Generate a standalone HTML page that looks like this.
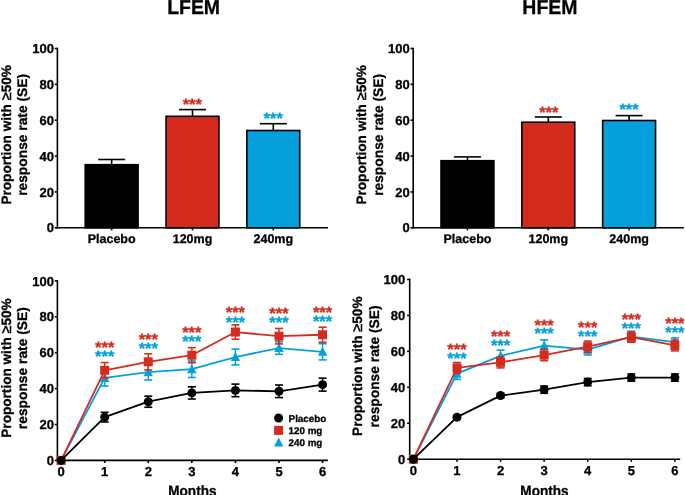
<!DOCTYPE html>
<html><head><meta charset="utf-8"><style>
html,body{margin:0;padding:0;background:#fff;}
svg{display:block;will-change:transform;}
text{stroke-width:0.3;paint-order:stroke;text-rendering:geometricPrecision;font-family:"Liberation Sans", sans-serif;font-weight:bold;}
</style></head><body>
<svg width="685" height="495" viewBox="0 0 685 495">
<rect width="685" height="495" fill="#fff"/>
<text transform="translate(193.60,13.75) scale(0.972,1)" font-size="20" text-anchor="middle" fill="#000" stroke="#000">LFEM</text>
<text transform="translate(10.60,134.85) rotate(-90)" font-size="13.6" text-anchor="middle" stroke="#000">Proportion with <tspan font-weight="normal" font-size="14.5" stroke-width="0.5">≥</tspan>50%</text>
<text transform="translate(26.80,134.90) rotate(-90)" font-size="13.8" text-anchor="middle" stroke="#000">response rate (SE)</text>
<line x1="57.40" y1="47.70" x2="57.40" y2="228.60" stroke="#000" stroke-width="1.6" stroke-linecap="butt"/>
<line x1="54.80" y1="227.80" x2="57.40" y2="227.80" stroke="#000" stroke-width="1.6" stroke-linecap="butt"/>
<text x="53.90" y="232.40" font-size="13" text-anchor="end" fill="#000" stroke="#000" >0</text>
<line x1="54.80" y1="191.94" x2="57.40" y2="191.94" stroke="#000" stroke-width="1.6" stroke-linecap="butt"/>
<text x="53.90" y="196.54" font-size="13" text-anchor="end" fill="#000" stroke="#000" >20</text>
<line x1="54.80" y1="156.08" x2="57.40" y2="156.08" stroke="#000" stroke-width="1.6" stroke-linecap="butt"/>
<text x="53.90" y="160.68" font-size="13" text-anchor="end" fill="#000" stroke="#000" >40</text>
<line x1="54.80" y1="120.22" x2="57.40" y2="120.22" stroke="#000" stroke-width="1.6" stroke-linecap="butt"/>
<text x="53.90" y="124.82" font-size="13" text-anchor="end" fill="#000" stroke="#000" >60</text>
<line x1="54.80" y1="84.36" x2="57.40" y2="84.36" stroke="#000" stroke-width="1.6" stroke-linecap="butt"/>
<text x="53.90" y="88.96" font-size="13" text-anchor="end" fill="#000" stroke="#000" >80</text>
<line x1="54.80" y1="48.50" x2="57.40" y2="48.50" stroke="#000" stroke-width="1.6" stroke-linecap="butt"/>
<text x="53.90" y="53.10" font-size="13" text-anchor="end" fill="#000" stroke="#000" >100</text>
<line x1="56.60" y1="227.80" x2="328.00" y2="227.80" stroke="#000" stroke-width="1.6" stroke-linecap="butt"/>
<line x1="111.65" y1="159.50" x2="111.65" y2="164.90" stroke="#000" stroke-width="1.6" stroke-linecap="butt"/>
<line x1="98.15" y1="159.50" x2="125.15" y2="159.50" stroke="#000" stroke-width="1.6" stroke-linecap="butt"/>
<rect x="85.20" y="164.70" width="52.90" height="63.10" fill="#000" stroke="#000" stroke-width="1.6"/>
<line x1="111.65" y1="227.80" x2="111.65" y2="230.40" stroke="#000" stroke-width="1.6" stroke-linecap="butt"/>
<text x="111.65" y="242.80" font-size="12.5" text-anchor="middle" fill="#000" stroke="#000" >Placebo</text>
<line x1="192.50" y1="109.60" x2="192.50" y2="116.50" stroke="#000" stroke-width="1.6" stroke-linecap="butt"/>
<line x1="179.00" y1="109.60" x2="206.00" y2="109.60" stroke="#000" stroke-width="1.6" stroke-linecap="butt"/>
<rect x="166.05" y="116.30" width="52.90" height="111.50" fill="#d52b1e" stroke="#000" stroke-width="1.6"/>
<line x1="192.50" y1="227.80" x2="192.50" y2="230.40" stroke="#000" stroke-width="1.6" stroke-linecap="butt"/>
<text x="192.50" y="242.80" font-size="12.5" text-anchor="middle" fill="#000" stroke="#000" >120mg</text>
<line x1="273.30" y1="123.70" x2="273.30" y2="130.70" stroke="#000" stroke-width="1.6" stroke-linecap="butt"/>
<line x1="259.80" y1="123.70" x2="286.80" y2="123.70" stroke="#000" stroke-width="1.6" stroke-linecap="butt"/>
<rect x="246.85" y="130.50" width="52.90" height="97.30" fill="#03a0dd" stroke="#000" stroke-width="1.6"/>
<line x1="273.30" y1="227.80" x2="273.30" y2="230.40" stroke="#000" stroke-width="1.6" stroke-linecap="butt"/>
<text x="273.30" y="242.80" font-size="12.5" text-anchor="middle" fill="#000" stroke="#000" >240mg</text>
<text x="192.30" y="110.20" font-size="16.5" text-anchor="middle" fill="#d52b1e" stroke="#d52b1e" >***</text>
<text x="273.20" y="123.80" font-size="16.5" text-anchor="middle" fill="#03a0dd" stroke="#03a0dd" >***</text>
<text transform="translate(549.90,13.75) scale(0.972,1)" font-size="20" text-anchor="middle" fill="#000" stroke="#000">HFEM</text>
<text transform="translate(366.00,134.85) rotate(-90)" font-size="13.6" text-anchor="middle" stroke="#000">Proportion with <tspan font-weight="normal" font-size="14.5" stroke-width="0.5">≥</tspan>50%</text>
<text transform="translate(382.60,134.90) rotate(-90)" font-size="13.8" text-anchor="middle" stroke="#000">response rate (SE)</text>
<line x1="413.20" y1="47.70" x2="413.20" y2="228.60" stroke="#000" stroke-width="1.6" stroke-linecap="butt"/>
<line x1="410.60" y1="227.80" x2="413.20" y2="227.80" stroke="#000" stroke-width="1.6" stroke-linecap="butt"/>
<text x="409.70" y="232.40" font-size="13" text-anchor="end" fill="#000" stroke="#000" >0</text>
<line x1="410.60" y1="191.94" x2="413.20" y2="191.94" stroke="#000" stroke-width="1.6" stroke-linecap="butt"/>
<text x="409.70" y="196.54" font-size="13" text-anchor="end" fill="#000" stroke="#000" >20</text>
<line x1="410.60" y1="156.08" x2="413.20" y2="156.08" stroke="#000" stroke-width="1.6" stroke-linecap="butt"/>
<text x="409.70" y="160.68" font-size="13" text-anchor="end" fill="#000" stroke="#000" >40</text>
<line x1="410.60" y1="120.22" x2="413.20" y2="120.22" stroke="#000" stroke-width="1.6" stroke-linecap="butt"/>
<text x="409.70" y="124.82" font-size="13" text-anchor="end" fill="#000" stroke="#000" >60</text>
<line x1="410.60" y1="84.36" x2="413.20" y2="84.36" stroke="#000" stroke-width="1.6" stroke-linecap="butt"/>
<text x="409.70" y="88.96" font-size="13" text-anchor="end" fill="#000" stroke="#000" >80</text>
<line x1="410.60" y1="48.50" x2="413.20" y2="48.50" stroke="#000" stroke-width="1.6" stroke-linecap="butt"/>
<text x="409.70" y="53.10" font-size="13" text-anchor="end" fill="#000" stroke="#000" >100</text>
<line x1="412.40" y1="227.80" x2="683.80" y2="227.80" stroke="#000" stroke-width="1.6" stroke-linecap="butt"/>
<line x1="467.45" y1="156.90" x2="467.45" y2="160.90" stroke="#000" stroke-width="1.6" stroke-linecap="butt"/>
<line x1="453.95" y1="156.90" x2="480.95" y2="156.90" stroke="#000" stroke-width="1.6" stroke-linecap="butt"/>
<rect x="441.00" y="160.70" width="52.90" height="67.10" fill="#000" stroke="#000" stroke-width="1.6"/>
<line x1="467.45" y1="227.80" x2="467.45" y2="230.40" stroke="#000" stroke-width="1.6" stroke-linecap="butt"/>
<text x="467.45" y="242.80" font-size="12.5" text-anchor="middle" fill="#000" stroke="#000" >Placebo</text>
<line x1="548.30" y1="117.00" x2="548.30" y2="122.40" stroke="#000" stroke-width="1.6" stroke-linecap="butt"/>
<line x1="534.80" y1="117.00" x2="561.80" y2="117.00" stroke="#000" stroke-width="1.6" stroke-linecap="butt"/>
<rect x="521.85" y="122.20" width="52.90" height="105.60" fill="#d52b1e" stroke="#000" stroke-width="1.6"/>
<line x1="548.30" y1="227.80" x2="548.30" y2="230.40" stroke="#000" stroke-width="1.6" stroke-linecap="butt"/>
<text x="548.30" y="242.80" font-size="12.5" text-anchor="middle" fill="#000" stroke="#000" >120mg</text>
<line x1="629.10" y1="115.60" x2="629.10" y2="120.70" stroke="#000" stroke-width="1.6" stroke-linecap="butt"/>
<line x1="615.60" y1="115.60" x2="642.60" y2="115.60" stroke="#000" stroke-width="1.6" stroke-linecap="butt"/>
<rect x="602.65" y="120.50" width="52.90" height="107.30" fill="#03a0dd" stroke="#000" stroke-width="1.6"/>
<line x1="629.10" y1="227.80" x2="629.10" y2="230.40" stroke="#000" stroke-width="1.6" stroke-linecap="butt"/>
<text x="629.10" y="242.80" font-size="12.5" text-anchor="middle" fill="#000" stroke="#000" >240mg</text>
<text x="548.80" y="118.40" font-size="16.5" text-anchor="middle" fill="#d52b1e" stroke="#d52b1e" >***</text>
<text x="629.10" y="115.30" font-size="16.5" text-anchor="middle" fill="#03a0dd" stroke="#03a0dd" >***</text>
<text transform="translate(10.60,368.00) rotate(-90)" font-size="13.6" text-anchor="middle" stroke="#000">Proportion with <tspan font-weight="normal" font-size="14.5" stroke-width="0.5">≥</tspan>50%</text>
<text transform="translate(26.80,368.20) rotate(-90)" font-size="13.8" text-anchor="middle" stroke="#000">response rate (SE)</text>
<line x1="57.40" y1="280.10" x2="57.40" y2="461.20" stroke="#000" stroke-width="1.6" stroke-linecap="butt"/>
<line x1="54.80" y1="460.40" x2="57.40" y2="460.40" stroke="#000" stroke-width="1.6" stroke-linecap="butt"/>
<text x="53.90" y="465.00" font-size="13" text-anchor="end" fill="#000" stroke="#000" >0</text>
<line x1="54.80" y1="424.50" x2="57.40" y2="424.50" stroke="#000" stroke-width="1.6" stroke-linecap="butt"/>
<text x="53.90" y="429.10" font-size="13" text-anchor="end" fill="#000" stroke="#000" >20</text>
<line x1="54.80" y1="388.60" x2="57.40" y2="388.60" stroke="#000" stroke-width="1.6" stroke-linecap="butt"/>
<text x="53.90" y="393.20" font-size="13" text-anchor="end" fill="#000" stroke="#000" >40</text>
<line x1="54.80" y1="352.70" x2="57.40" y2="352.70" stroke="#000" stroke-width="1.6" stroke-linecap="butt"/>
<text x="53.90" y="357.30" font-size="13" text-anchor="end" fill="#000" stroke="#000" >60</text>
<line x1="54.80" y1="316.80" x2="57.40" y2="316.80" stroke="#000" stroke-width="1.6" stroke-linecap="butt"/>
<text x="53.90" y="321.40" font-size="13" text-anchor="end" fill="#000" stroke="#000" >80</text>
<line x1="54.80" y1="280.90" x2="57.40" y2="280.90" stroke="#000" stroke-width="1.6" stroke-linecap="butt"/>
<text x="53.90" y="285.50" font-size="13" text-anchor="end" fill="#000" stroke="#000" >100</text>
<line x1="56.60" y1="460.40" x2="327.90" y2="460.40" stroke="#000" stroke-width="1.6" stroke-linecap="butt"/>
<text x="61.10" y="476.40" font-size="13" text-anchor="middle" fill="#000" stroke="#000" >0</text>
<line x1="104.68" y1="460.40" x2="104.68" y2="463.00" stroke="#000" stroke-width="1.6" stroke-linecap="butt"/>
<text x="104.68" y="476.40" font-size="13" text-anchor="middle" fill="#000" stroke="#000" >1</text>
<line x1="148.26" y1="460.40" x2="148.26" y2="463.00" stroke="#000" stroke-width="1.6" stroke-linecap="butt"/>
<text x="148.26" y="476.40" font-size="13" text-anchor="middle" fill="#000" stroke="#000" >2</text>
<line x1="191.84" y1="460.40" x2="191.84" y2="463.00" stroke="#000" stroke-width="1.6" stroke-linecap="butt"/>
<text x="191.84" y="476.40" font-size="13" text-anchor="middle" fill="#000" stroke="#000" >3</text>
<line x1="235.42" y1="460.40" x2="235.42" y2="463.00" stroke="#000" stroke-width="1.6" stroke-linecap="butt"/>
<text x="235.42" y="476.40" font-size="13" text-anchor="middle" fill="#000" stroke="#000" >4</text>
<line x1="279.00" y1="460.40" x2="279.00" y2="463.00" stroke="#000" stroke-width="1.6" stroke-linecap="butt"/>
<text x="279.00" y="476.40" font-size="13" text-anchor="middle" fill="#000" stroke="#000" >5</text>
<line x1="322.58" y1="460.40" x2="322.58" y2="463.00" stroke="#000" stroke-width="1.6" stroke-linecap="butt"/>
<text x="322.58" y="476.40" font-size="13" text-anchor="middle" fill="#000" stroke="#000" >6</text>
<text transform="translate(192.40,495.9) scale(0.907,1)" font-size="15" text-anchor="middle" fill="#000" stroke="#000">Months</text>
<polyline points="61.10,460.40 104.68,377.83 148.26,372.09 191.84,369.21 235.42,357.01 279.00,348.03 322.58,351.80" fill="none" stroke="#03a0dd" stroke-width="1.8" stroke-linejoin="round"/>
<polygon points="61.10,455.45 65.80,464.45 56.40,464.45" fill="#03a0dd"/>
<line x1="104.68" y1="369.57" x2="104.68" y2="386.09" stroke="#03a0dd" stroke-width="1.4" stroke-linecap="butt"/>
<line x1="100.68" y1="369.57" x2="108.68" y2="369.57" stroke="#03a0dd" stroke-width="1.6" stroke-linecap="butt"/>
<line x1="100.68" y1="386.09" x2="108.68" y2="386.09" stroke="#03a0dd" stroke-width="1.6" stroke-linecap="butt"/>
<polygon points="104.68,372.88 109.38,381.88 99.98,381.88" fill="#03a0dd"/>
<line x1="148.26" y1="364.19" x2="148.26" y2="379.98" stroke="#03a0dd" stroke-width="1.4" stroke-linecap="butt"/>
<line x1="144.26" y1="364.19" x2="152.26" y2="364.19" stroke="#03a0dd" stroke-width="1.6" stroke-linecap="butt"/>
<line x1="144.26" y1="379.98" x2="152.26" y2="379.98" stroke="#03a0dd" stroke-width="1.6" stroke-linecap="butt"/>
<polygon points="148.26,367.14 152.96,376.14 143.56,376.14" fill="#03a0dd"/>
<line x1="191.84" y1="360.96" x2="191.84" y2="377.47" stroke="#03a0dd" stroke-width="1.4" stroke-linecap="butt"/>
<line x1="187.84" y1="360.96" x2="195.84" y2="360.96" stroke="#03a0dd" stroke-width="1.6" stroke-linecap="butt"/>
<line x1="187.84" y1="377.47" x2="195.84" y2="377.47" stroke="#03a0dd" stroke-width="1.6" stroke-linecap="butt"/>
<polygon points="191.84,364.26 196.54,373.26 187.14,373.26" fill="#03a0dd"/>
<line x1="235.42" y1="349.11" x2="235.42" y2="364.91" stroke="#03a0dd" stroke-width="1.4" stroke-linecap="butt"/>
<line x1="231.42" y1="349.11" x2="239.42" y2="349.11" stroke="#03a0dd" stroke-width="1.6" stroke-linecap="butt"/>
<line x1="231.42" y1="364.91" x2="239.42" y2="364.91" stroke="#03a0dd" stroke-width="1.6" stroke-linecap="butt"/>
<polygon points="235.42,352.06 240.12,361.06 230.72,361.06" fill="#03a0dd"/>
<line x1="279.00" y1="341.75" x2="279.00" y2="354.32" stroke="#03a0dd" stroke-width="1.4" stroke-linecap="butt"/>
<line x1="275.00" y1="341.75" x2="283.00" y2="341.75" stroke="#03a0dd" stroke-width="1.6" stroke-linecap="butt"/>
<line x1="275.00" y1="354.32" x2="283.00" y2="354.32" stroke="#03a0dd" stroke-width="1.6" stroke-linecap="butt"/>
<polygon points="279.00,343.08 283.70,352.08 274.30,352.08" fill="#03a0dd"/>
<line x1="322.58" y1="343.72" x2="322.58" y2="359.88" stroke="#03a0dd" stroke-width="1.4" stroke-linecap="butt"/>
<line x1="318.58" y1="343.72" x2="326.58" y2="343.72" stroke="#03a0dd" stroke-width="1.6" stroke-linecap="butt"/>
<line x1="318.58" y1="359.88" x2="326.58" y2="359.88" stroke="#03a0dd" stroke-width="1.6" stroke-linecap="butt"/>
<polygon points="322.58,346.85 327.28,355.85 317.88,355.85" fill="#03a0dd"/>
<polyline points="61.10,460.40 104.68,370.29 148.26,361.85 191.84,355.21 235.42,332.06 279.00,336.19 322.58,334.75" fill="none" stroke="#d52b1e" stroke-width="1.8" stroke-linejoin="round"/>
<rect x="56.60" y="455.90" width="9" height="9" fill="#d52b1e"/>
<line x1="104.68" y1="362.57" x2="104.68" y2="378.01" stroke="#d52b1e" stroke-width="1.4" stroke-linecap="butt"/>
<line x1="100.68" y1="362.57" x2="108.68" y2="362.57" stroke="#d52b1e" stroke-width="1.6" stroke-linecap="butt"/>
<line x1="100.68" y1="378.01" x2="108.68" y2="378.01" stroke="#d52b1e" stroke-width="1.6" stroke-linecap="butt"/>
<rect x="100.18" y="365.79" width="9" height="9" fill="#d52b1e"/>
<line x1="148.26" y1="353.78" x2="148.26" y2="369.93" stroke="#d52b1e" stroke-width="1.4" stroke-linecap="butt"/>
<line x1="144.26" y1="353.78" x2="152.26" y2="353.78" stroke="#d52b1e" stroke-width="1.6" stroke-linecap="butt"/>
<line x1="144.26" y1="369.93" x2="152.26" y2="369.93" stroke="#d52b1e" stroke-width="1.6" stroke-linecap="butt"/>
<rect x="143.76" y="357.35" width="9" height="9" fill="#d52b1e"/>
<line x1="191.84" y1="347.67" x2="191.84" y2="362.75" stroke="#d52b1e" stroke-width="1.4" stroke-linecap="butt"/>
<line x1="187.84" y1="347.67" x2="195.84" y2="347.67" stroke="#d52b1e" stroke-width="1.6" stroke-linecap="butt"/>
<line x1="187.84" y1="362.75" x2="195.84" y2="362.75" stroke="#d52b1e" stroke-width="1.6" stroke-linecap="butt"/>
<rect x="187.34" y="350.71" width="9" height="9" fill="#d52b1e"/>
<line x1="235.42" y1="324.88" x2="235.42" y2="339.24" stroke="#d52b1e" stroke-width="1.4" stroke-linecap="butt"/>
<line x1="231.42" y1="324.88" x2="239.42" y2="324.88" stroke="#d52b1e" stroke-width="1.6" stroke-linecap="butt"/>
<line x1="231.42" y1="339.24" x2="239.42" y2="339.24" stroke="#d52b1e" stroke-width="1.6" stroke-linecap="butt"/>
<rect x="230.92" y="327.56" width="9" height="9" fill="#d52b1e"/>
<line x1="279.00" y1="328.47" x2="279.00" y2="343.90" stroke="#d52b1e" stroke-width="1.4" stroke-linecap="butt"/>
<line x1="275.00" y1="328.47" x2="283.00" y2="328.47" stroke="#d52b1e" stroke-width="1.6" stroke-linecap="butt"/>
<line x1="275.00" y1="343.90" x2="283.00" y2="343.90" stroke="#d52b1e" stroke-width="1.6" stroke-linecap="butt"/>
<rect x="274.50" y="331.69" width="9" height="9" fill="#d52b1e"/>
<line x1="322.58" y1="327.21" x2="322.58" y2="342.29" stroke="#d52b1e" stroke-width="1.4" stroke-linecap="butt"/>
<line x1="318.58" y1="327.21" x2="326.58" y2="327.21" stroke="#d52b1e" stroke-width="1.6" stroke-linecap="butt"/>
<line x1="318.58" y1="342.29" x2="326.58" y2="342.29" stroke="#d52b1e" stroke-width="1.6" stroke-linecap="butt"/>
<rect x="318.08" y="330.25" width="9" height="9" fill="#d52b1e"/>
<polyline points="61.10,460.40 104.68,417.14 148.26,401.70 191.84,392.91 235.42,390.39 279.00,391.29 322.58,384.65" fill="none" stroke="#000" stroke-width="1.8" stroke-linejoin="round"/>
<circle cx="61.10" cy="460.40" r="4.50" fill="#000"/>
<line x1="104.68" y1="412.29" x2="104.68" y2="421.99" stroke="#000" stroke-width="1.4" stroke-linecap="butt"/>
<line x1="100.68" y1="412.29" x2="108.68" y2="412.29" stroke="#000" stroke-width="1.6" stroke-linecap="butt"/>
<line x1="100.68" y1="421.99" x2="108.68" y2="421.99" stroke="#000" stroke-width="1.6" stroke-linecap="butt"/>
<circle cx="104.68" cy="417.14" r="4.50" fill="#000"/>
<line x1="148.26" y1="396.14" x2="148.26" y2="407.27" stroke="#000" stroke-width="1.4" stroke-linecap="butt"/>
<line x1="144.26" y1="396.14" x2="152.26" y2="396.14" stroke="#000" stroke-width="1.6" stroke-linecap="butt"/>
<line x1="144.26" y1="407.27" x2="152.26" y2="407.27" stroke="#000" stroke-width="1.6" stroke-linecap="butt"/>
<circle cx="148.26" cy="401.70" r="4.50" fill="#000"/>
<line x1="191.84" y1="386.80" x2="191.84" y2="399.01" stroke="#000" stroke-width="1.4" stroke-linecap="butt"/>
<line x1="187.84" y1="386.80" x2="195.84" y2="386.80" stroke="#000" stroke-width="1.6" stroke-linecap="butt"/>
<line x1="187.84" y1="399.01" x2="195.84" y2="399.01" stroke="#000" stroke-width="1.6" stroke-linecap="butt"/>
<circle cx="191.84" cy="392.91" r="4.50" fill="#000"/>
<line x1="235.42" y1="384.11" x2="235.42" y2="396.68" stroke="#000" stroke-width="1.4" stroke-linecap="butt"/>
<line x1="231.42" y1="384.11" x2="239.42" y2="384.11" stroke="#000" stroke-width="1.6" stroke-linecap="butt"/>
<line x1="231.42" y1="396.68" x2="239.42" y2="396.68" stroke="#000" stroke-width="1.6" stroke-linecap="butt"/>
<circle cx="235.42" cy="390.39" r="4.50" fill="#000"/>
<line x1="279.00" y1="385.01" x2="279.00" y2="397.57" stroke="#000" stroke-width="1.4" stroke-linecap="butt"/>
<line x1="275.00" y1="385.01" x2="283.00" y2="385.01" stroke="#000" stroke-width="1.6" stroke-linecap="butt"/>
<line x1="275.00" y1="397.57" x2="283.00" y2="397.57" stroke="#000" stroke-width="1.6" stroke-linecap="butt"/>
<circle cx="279.00" cy="391.29" r="4.50" fill="#000"/>
<line x1="322.58" y1="378.19" x2="322.58" y2="391.11" stroke="#000" stroke-width="1.4" stroke-linecap="butt"/>
<line x1="318.58" y1="378.19" x2="326.58" y2="378.19" stroke="#000" stroke-width="1.6" stroke-linecap="butt"/>
<line x1="318.58" y1="391.11" x2="326.58" y2="391.11" stroke="#000" stroke-width="1.6" stroke-linecap="butt"/>
<circle cx="322.58" cy="384.65" r="4.50" fill="#000"/>
<text x="104.68" y="352.70" font-size="16.5" text-anchor="middle" fill="#d52b1e" stroke="#d52b1e" >***</text>
<text x="104.68" y="362.10" font-size="16.5" text-anchor="middle" fill="#03a0dd" stroke="#03a0dd" >***</text>
<text x="148.26" y="344.60" font-size="16.5" text-anchor="middle" fill="#d52b1e" stroke="#d52b1e" >***</text>
<text x="148.26" y="353.50" font-size="16.5" text-anchor="middle" fill="#03a0dd" stroke="#03a0dd" >***</text>
<text x="191.84" y="337.60" font-size="16.5" text-anchor="middle" fill="#d52b1e" stroke="#d52b1e" >***</text>
<text x="191.84" y="346.70" font-size="16.5" text-anchor="middle" fill="#03a0dd" stroke="#03a0dd" >***</text>
<text x="235.42" y="318.20" font-size="16.5" text-anchor="middle" fill="#d52b1e" stroke="#d52b1e" >***</text>
<text x="235.42" y="327.70" font-size="16.5" text-anchor="middle" fill="#03a0dd" stroke="#03a0dd" >***</text>
<text x="279.00" y="319.20" font-size="16.5" text-anchor="middle" fill="#d52b1e" stroke="#d52b1e" >***</text>
<text x="279.00" y="328.10" font-size="16.5" text-anchor="middle" fill="#03a0dd" stroke="#03a0dd" >***</text>
<text x="322.58" y="317.60" font-size="16.5" text-anchor="middle" fill="#d52b1e" stroke="#d52b1e" >***</text>
<text x="322.58" y="327.30" font-size="16.5" text-anchor="middle" fill="#03a0dd" stroke="#03a0dd" >***</text>
<text transform="translate(362.10,366.20) rotate(-90)" font-size="13.6" text-anchor="middle" stroke="#000">Proportion with <tspan font-weight="normal" font-size="14.5" stroke-width="0.5">≥</tspan>50%</text>
<text transform="translate(378.70,366.45) rotate(-90)" font-size="13.8" text-anchor="middle" stroke="#000">response rate (SE)</text>
<line x1="409.70" y1="278.70" x2="409.70" y2="460.00" stroke="#000" stroke-width="1.6" stroke-linecap="butt"/>
<line x1="407.10" y1="459.20" x2="409.70" y2="459.20" stroke="#000" stroke-width="1.6" stroke-linecap="butt"/>
<text x="405.30" y="463.80" font-size="13" text-anchor="end" fill="#000" stroke="#000" >0</text>
<line x1="407.10" y1="423.26" x2="409.70" y2="423.26" stroke="#000" stroke-width="1.6" stroke-linecap="butt"/>
<text x="405.30" y="427.86" font-size="13" text-anchor="end" fill="#000" stroke="#000" >20</text>
<line x1="407.10" y1="387.32" x2="409.70" y2="387.32" stroke="#000" stroke-width="1.6" stroke-linecap="butt"/>
<text x="405.30" y="391.92" font-size="13" text-anchor="end" fill="#000" stroke="#000" >40</text>
<line x1="407.10" y1="351.38" x2="409.70" y2="351.38" stroke="#000" stroke-width="1.6" stroke-linecap="butt"/>
<text x="405.30" y="355.98" font-size="13" text-anchor="end" fill="#000" stroke="#000" >60</text>
<line x1="407.10" y1="315.44" x2="409.70" y2="315.44" stroke="#000" stroke-width="1.6" stroke-linecap="butt"/>
<text x="405.30" y="320.04" font-size="13" text-anchor="end" fill="#000" stroke="#000" >80</text>
<line x1="407.10" y1="279.50" x2="409.70" y2="279.50" stroke="#000" stroke-width="1.6" stroke-linecap="butt"/>
<text x="405.30" y="284.10" font-size="13" text-anchor="end" fill="#000" stroke="#000" >100</text>
<line x1="408.90" y1="459.20" x2="680.20" y2="459.20" stroke="#000" stroke-width="1.6" stroke-linecap="butt"/>
<text x="413.40" y="475.20" font-size="13" text-anchor="middle" fill="#000" stroke="#000" >0</text>
<line x1="456.98" y1="459.20" x2="456.98" y2="461.80" stroke="#000" stroke-width="1.6" stroke-linecap="butt"/>
<text x="456.98" y="475.20" font-size="13" text-anchor="middle" fill="#000" stroke="#000" >1</text>
<line x1="500.56" y1="459.20" x2="500.56" y2="461.80" stroke="#000" stroke-width="1.6" stroke-linecap="butt"/>
<text x="500.56" y="475.20" font-size="13" text-anchor="middle" fill="#000" stroke="#000" >2</text>
<line x1="544.14" y1="459.20" x2="544.14" y2="461.80" stroke="#000" stroke-width="1.6" stroke-linecap="butt"/>
<text x="544.14" y="475.20" font-size="13" text-anchor="middle" fill="#000" stroke="#000" >3</text>
<line x1="587.72" y1="459.20" x2="587.72" y2="461.80" stroke="#000" stroke-width="1.6" stroke-linecap="butt"/>
<text x="587.72" y="475.20" font-size="13" text-anchor="middle" fill="#000" stroke="#000" >4</text>
<line x1="631.30" y1="459.20" x2="631.30" y2="461.80" stroke="#000" stroke-width="1.6" stroke-linecap="butt"/>
<text x="631.30" y="475.20" font-size="13" text-anchor="middle" fill="#000" stroke="#000" >5</text>
<line x1="674.88" y1="459.20" x2="674.88" y2="461.80" stroke="#000" stroke-width="1.6" stroke-linecap="butt"/>
<text x="674.88" y="475.20" font-size="13" text-anchor="middle" fill="#000" stroke="#000" >6</text>
<text transform="translate(544.50,495.9) scale(0.907,1)" font-size="15" text-anchor="middle" fill="#000" stroke="#000">Months</text>
<polyline points="413.40,459.20 456.98,373.66 500.56,355.87 544.14,345.63 587.72,349.58 631.30,336.64 674.88,342.04" fill="none" stroke="#03a0dd" stroke-width="1.8" stroke-linejoin="round"/>
<polygon points="413.40,454.25 418.10,463.25 408.70,463.25" fill="#03a0dd"/>
<line x1="456.98" y1="367.91" x2="456.98" y2="379.41" stroke="#03a0dd" stroke-width="1.4" stroke-linecap="butt"/>
<line x1="452.98" y1="367.91" x2="460.98" y2="367.91" stroke="#03a0dd" stroke-width="1.6" stroke-linecap="butt"/>
<line x1="452.98" y1="379.41" x2="460.98" y2="379.41" stroke="#03a0dd" stroke-width="1.6" stroke-linecap="butt"/>
<polygon points="456.98,368.71 461.68,377.71 452.28,377.71" fill="#03a0dd"/>
<line x1="500.56" y1="350.12" x2="500.56" y2="361.62" stroke="#03a0dd" stroke-width="1.4" stroke-linecap="butt"/>
<line x1="496.56" y1="350.12" x2="504.56" y2="350.12" stroke="#03a0dd" stroke-width="1.6" stroke-linecap="butt"/>
<line x1="496.56" y1="361.62" x2="504.56" y2="361.62" stroke="#03a0dd" stroke-width="1.6" stroke-linecap="butt"/>
<polygon points="500.56,350.92 505.26,359.92 495.86,359.92" fill="#03a0dd"/>
<line x1="544.14" y1="339.88" x2="544.14" y2="351.38" stroke="#03a0dd" stroke-width="1.4" stroke-linecap="butt"/>
<line x1="540.14" y1="339.88" x2="548.14" y2="339.88" stroke="#03a0dd" stroke-width="1.6" stroke-linecap="butt"/>
<line x1="540.14" y1="351.38" x2="548.14" y2="351.38" stroke="#03a0dd" stroke-width="1.6" stroke-linecap="butt"/>
<polygon points="544.14,340.68 548.84,349.68 539.44,349.68" fill="#03a0dd"/>
<line x1="587.72" y1="344.19" x2="587.72" y2="354.97" stroke="#03a0dd" stroke-width="1.4" stroke-linecap="butt"/>
<line x1="583.72" y1="344.19" x2="591.72" y2="344.19" stroke="#03a0dd" stroke-width="1.6" stroke-linecap="butt"/>
<line x1="583.72" y1="354.97" x2="591.72" y2="354.97" stroke="#03a0dd" stroke-width="1.6" stroke-linecap="butt"/>
<polygon points="587.72,344.63 592.42,353.63 583.02,353.63" fill="#03a0dd"/>
<line x1="631.30" y1="331.25" x2="631.30" y2="342.04" stroke="#03a0dd" stroke-width="1.4" stroke-linecap="butt"/>
<line x1="627.30" y1="331.25" x2="635.30" y2="331.25" stroke="#03a0dd" stroke-width="1.6" stroke-linecap="butt"/>
<line x1="627.30" y1="342.04" x2="635.30" y2="342.04" stroke="#03a0dd" stroke-width="1.6" stroke-linecap="butt"/>
<polygon points="631.30,331.69 636.00,340.69 626.60,340.69" fill="#03a0dd"/>
<line x1="674.88" y1="337.90" x2="674.88" y2="346.17" stroke="#03a0dd" stroke-width="1.4" stroke-linecap="butt"/>
<line x1="670.88" y1="337.90" x2="678.88" y2="337.90" stroke="#03a0dd" stroke-width="1.6" stroke-linecap="butt"/>
<line x1="670.88" y1="346.17" x2="678.88" y2="346.17" stroke="#03a0dd" stroke-width="1.6" stroke-linecap="butt"/>
<polygon points="674.88,337.09 679.58,346.09 670.18,346.09" fill="#03a0dd"/>
<polyline points="413.40,459.20 456.98,367.91 500.56,362.34 544.14,355.15 587.72,346.71 631.30,337.18 674.88,345.45" fill="none" stroke="#d52b1e" stroke-width="1.8" stroke-linejoin="round"/>
<rect x="408.90" y="454.70" width="9" height="9" fill="#d52b1e"/>
<line x1="456.98" y1="362.52" x2="456.98" y2="373.30" stroke="#d52b1e" stroke-width="1.4" stroke-linecap="butt"/>
<line x1="452.98" y1="362.52" x2="460.98" y2="362.52" stroke="#d52b1e" stroke-width="1.6" stroke-linecap="butt"/>
<line x1="452.98" y1="373.30" x2="460.98" y2="373.30" stroke="#d52b1e" stroke-width="1.6" stroke-linecap="butt"/>
<rect x="452.48" y="363.41" width="9" height="9" fill="#d52b1e"/>
<line x1="500.56" y1="356.77" x2="500.56" y2="367.91" stroke="#d52b1e" stroke-width="1.4" stroke-linecap="butt"/>
<line x1="496.56" y1="356.77" x2="504.56" y2="356.77" stroke="#d52b1e" stroke-width="1.6" stroke-linecap="butt"/>
<line x1="496.56" y1="367.91" x2="504.56" y2="367.91" stroke="#d52b1e" stroke-width="1.6" stroke-linecap="butt"/>
<rect x="496.06" y="357.84" width="9" height="9" fill="#d52b1e"/>
<line x1="544.14" y1="349.58" x2="544.14" y2="360.72" stroke="#d52b1e" stroke-width="1.4" stroke-linecap="butt"/>
<line x1="540.14" y1="349.58" x2="548.14" y2="349.58" stroke="#d52b1e" stroke-width="1.6" stroke-linecap="butt"/>
<line x1="540.14" y1="360.72" x2="548.14" y2="360.72" stroke="#d52b1e" stroke-width="1.6" stroke-linecap="butt"/>
<rect x="539.64" y="350.65" width="9" height="9" fill="#d52b1e"/>
<line x1="587.72" y1="341.14" x2="587.72" y2="352.28" stroke="#d52b1e" stroke-width="1.4" stroke-linecap="butt"/>
<line x1="583.72" y1="341.14" x2="591.72" y2="341.14" stroke="#d52b1e" stroke-width="1.6" stroke-linecap="butt"/>
<line x1="583.72" y1="352.28" x2="591.72" y2="352.28" stroke="#d52b1e" stroke-width="1.6" stroke-linecap="butt"/>
<rect x="583.22" y="342.21" width="9" height="9" fill="#d52b1e"/>
<line x1="631.30" y1="332.15" x2="631.30" y2="342.22" stroke="#d52b1e" stroke-width="1.4" stroke-linecap="butt"/>
<line x1="627.30" y1="332.15" x2="635.30" y2="332.15" stroke="#d52b1e" stroke-width="1.6" stroke-linecap="butt"/>
<line x1="627.30" y1="342.22" x2="635.30" y2="342.22" stroke="#d52b1e" stroke-width="1.6" stroke-linecap="butt"/>
<rect x="626.80" y="332.68" width="9" height="9" fill="#d52b1e"/>
<line x1="674.88" y1="340.06" x2="674.88" y2="350.84" stroke="#d52b1e" stroke-width="1.4" stroke-linecap="butt"/>
<line x1="670.88" y1="340.06" x2="678.88" y2="340.06" stroke="#d52b1e" stroke-width="1.6" stroke-linecap="butt"/>
<line x1="670.88" y1="350.84" x2="678.88" y2="350.84" stroke="#d52b1e" stroke-width="1.6" stroke-linecap="butt"/>
<rect x="670.38" y="340.95" width="9" height="9" fill="#d52b1e"/>
<polyline points="413.40,459.20 456.98,417.15 500.56,395.59 544.14,389.66 587.72,382.11 631.30,377.62 674.88,377.62" fill="none" stroke="#000" stroke-width="1.8" stroke-linejoin="round"/>
<circle cx="413.40" cy="459.20" r="4.50" fill="#000"/>
<line x1="456.98" y1="415.35" x2="456.98" y2="418.95" stroke="#000" stroke-width="1.4" stroke-linecap="butt"/>
<line x1="452.98" y1="415.35" x2="460.98" y2="415.35" stroke="#000" stroke-width="1.6" stroke-linecap="butt"/>
<line x1="452.98" y1="418.95" x2="460.98" y2="418.95" stroke="#000" stroke-width="1.6" stroke-linecap="butt"/>
<circle cx="456.98" cy="417.15" r="4.50" fill="#000"/>
<line x1="500.56" y1="393.25" x2="500.56" y2="397.92" stroke="#000" stroke-width="1.4" stroke-linecap="butt"/>
<line x1="496.56" y1="393.25" x2="504.56" y2="393.25" stroke="#000" stroke-width="1.6" stroke-linecap="butt"/>
<line x1="496.56" y1="397.92" x2="504.56" y2="397.92" stroke="#000" stroke-width="1.6" stroke-linecap="butt"/>
<circle cx="500.56" cy="395.59" r="4.50" fill="#000"/>
<line x1="544.14" y1="386.06" x2="544.14" y2="393.25" stroke="#000" stroke-width="1.4" stroke-linecap="butt"/>
<line x1="540.14" y1="386.06" x2="548.14" y2="386.06" stroke="#000" stroke-width="1.6" stroke-linecap="butt"/>
<line x1="540.14" y1="393.25" x2="548.14" y2="393.25" stroke="#000" stroke-width="1.6" stroke-linecap="butt"/>
<circle cx="544.14" cy="389.66" r="4.50" fill="#000"/>
<line x1="587.72" y1="378.51" x2="587.72" y2="385.70" stroke="#000" stroke-width="1.4" stroke-linecap="butt"/>
<line x1="583.72" y1="378.51" x2="591.72" y2="378.51" stroke="#000" stroke-width="1.6" stroke-linecap="butt"/>
<line x1="583.72" y1="385.70" x2="591.72" y2="385.70" stroke="#000" stroke-width="1.6" stroke-linecap="butt"/>
<circle cx="587.72" cy="382.11" r="4.50" fill="#000"/>
<line x1="631.30" y1="374.02" x2="631.30" y2="381.21" stroke="#000" stroke-width="1.4" stroke-linecap="butt"/>
<line x1="627.30" y1="374.02" x2="635.30" y2="374.02" stroke="#000" stroke-width="1.6" stroke-linecap="butt"/>
<line x1="627.30" y1="381.21" x2="635.30" y2="381.21" stroke="#000" stroke-width="1.6" stroke-linecap="butt"/>
<circle cx="631.30" cy="377.62" r="4.50" fill="#000"/>
<line x1="674.88" y1="374.02" x2="674.88" y2="381.21" stroke="#000" stroke-width="1.4" stroke-linecap="butt"/>
<line x1="670.88" y1="374.02" x2="678.88" y2="374.02" stroke="#000" stroke-width="1.6" stroke-linecap="butt"/>
<line x1="670.88" y1="381.21" x2="678.88" y2="381.21" stroke="#000" stroke-width="1.6" stroke-linecap="butt"/>
<circle cx="674.88" cy="377.62" r="4.50" fill="#000"/>
<text x="456.98" y="354.60" font-size="16.5" text-anchor="middle" fill="#d52b1e" stroke="#d52b1e" >***</text>
<text x="456.98" y="363.50" font-size="16.5" text-anchor="middle" fill="#03a0dd" stroke="#03a0dd" >***</text>
<text x="500.56" y="342.00" font-size="16.5" text-anchor="middle" fill="#d52b1e" stroke="#d52b1e" >***</text>
<text x="500.56" y="350.80" font-size="16.5" text-anchor="middle" fill="#03a0dd" stroke="#03a0dd" >***</text>
<text x="544.14" y="330.60" font-size="16.5" text-anchor="middle" fill="#d52b1e" stroke="#d52b1e" >***</text>
<text x="544.14" y="339.20" font-size="16.5" text-anchor="middle" fill="#03a0dd" stroke="#03a0dd" >***</text>
<text x="587.72" y="332.60" font-size="16.5" text-anchor="middle" fill="#d52b1e" stroke="#d52b1e" >***</text>
<text x="587.72" y="341.60" font-size="16.5" text-anchor="middle" fill="#03a0dd" stroke="#03a0dd" >***</text>
<text x="631.30" y="325.00" font-size="16.5" text-anchor="middle" fill="#d52b1e" stroke="#d52b1e" >***</text>
<text x="631.30" y="334.10" font-size="16.5" text-anchor="middle" fill="#03a0dd" stroke="#03a0dd" >***</text>
<text x="674.88" y="328.60" font-size="16.5" text-anchor="middle" fill="#d52b1e" stroke="#d52b1e" >***</text>
<text x="674.88" y="337.70" font-size="16.5" text-anchor="middle" fill="#03a0dd" stroke="#03a0dd" >***</text>
<circle cx="278.60" cy="418.00" r="4.50" fill="#000"/>
<rect x="274.10" y="425.90" width="9" height="9" fill="#d52b1e"/>
<polygon points="278.70,437.45 283.40,446.45 274.00,446.45" fill="#03a0dd"/>
<text x="288.60" y="421.70" font-size="9.8" text-anchor="start" fill="#000" stroke="#000" >Placebo</text>
<text x="288.60" y="433.90" font-size="9.8" text-anchor="start" fill="#000" stroke="#000" >120 mg</text>
<text x="288.60" y="445.80" font-size="9.8" text-anchor="start" fill="#000" stroke="#000" >240 mg</text>
</svg>
</body></html>
